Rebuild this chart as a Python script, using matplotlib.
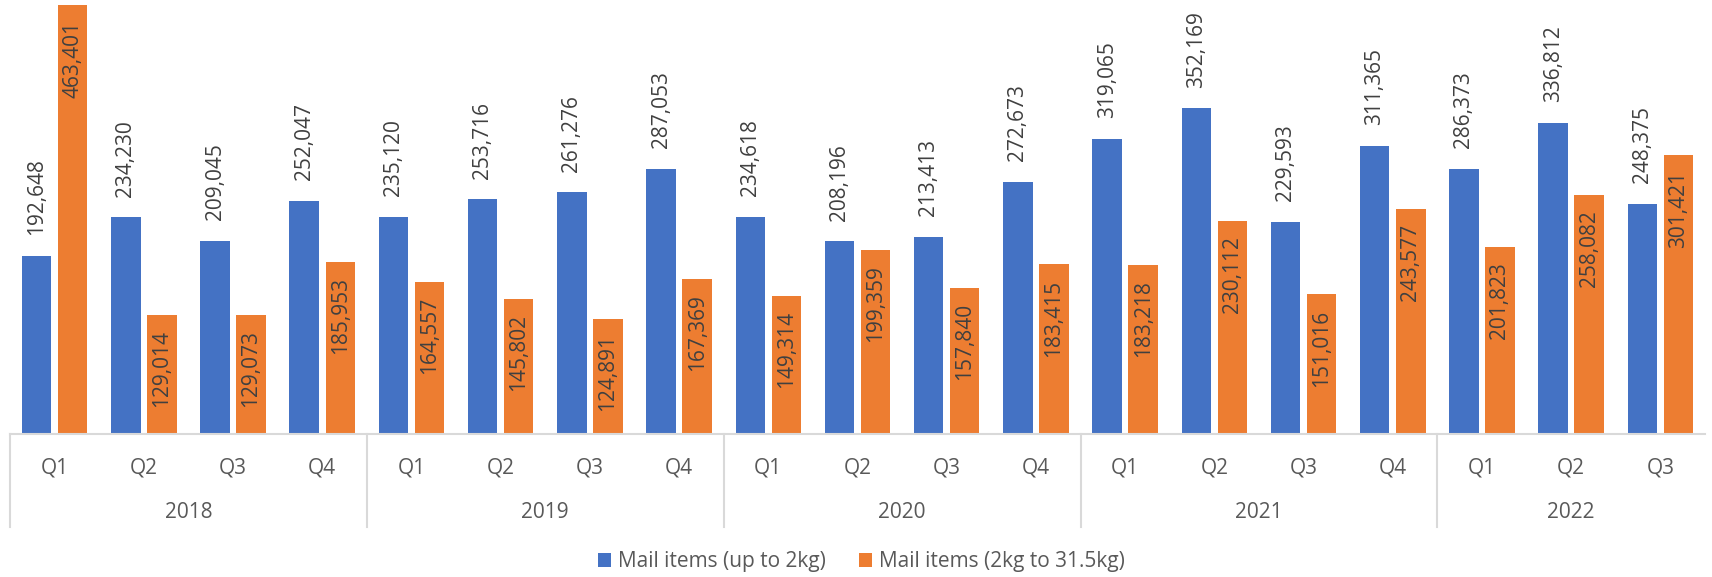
import matplotlib.pyplot as plt
import matplotlib.transforms as mtransforms
import numpy as np

plt.rcParams['font.family'] = ['Open Sans', 'DejaVu Sans']

# mail items per quarter, 2018 Q1 .. 2022 Q3
quarters = ['Q1', 'Q2', 'Q3', 'Q4'] * 4 + ['Q1', 'Q2', 'Q3']
years = ['2018', '2019', '2020', '2021', '2022']
year_sizes = [4, 4, 4, 4, 3]
small_items = [192648, 234230, 209045, 252047, 235120, 253716, 261276, 287053,
               234618, 208196, 213413, 272673, 319065, 352169, 229593, 311365,
               286373, 336812, 248375]
large_items = [463401, 129014, 129073, 185953, 164557, 145802, 124891, 167369,
               149314, 199359, 157840, 183415, 183218, 230112, 151016, 243577,
               201823, 258082, 301421]
series_names = ['Mail items (up to 2kg)', 'Mail items (2kg to 31.5kg)']

blue = '#4472C4'
orange = '#ED7D31'
txt = '#404040'
grid = '#D9D9D9'

fig = plt.figure(figsize=(17.12, 5.77), dpi=100)
ax = fig.add_axes([10 / 1712, 1 - 434 / 577, 1695 / 1712, 430 / 577])

x = np.arange(len(quarters))
w = 0.33
off = 0.202
b1 = ax.bar(x - off, small_items, w, color=blue, label=series_names[0])
b2 = ax.bar(x + off, large_items, w, color=orange, label=series_names[1])

for rect, v in zip(b1, small_items):
    ax.annotate(f'{v:,}', (rect.get_x() + rect.get_width() / 2, v),
                xytext=(0, 15), textcoords='offset points', rotation=90,
                ha='center', va='bottom', fontsize=15, color=txt)
for rect, v in zip(b2, large_items):
    ax.annotate(f'{v:,}', (rect.get_x() + rect.get_width() / 2, v),
                xytext=(0, -11), textcoords='offset points', rotation=90,
                ha='center', va='top', fontsize=15, color=txt)

ax.set_xlim(-0.5, len(quarters) - 0.5)
ax.set_ylim(0, 465000)
ax.set_yticks([])
for s in ['top', 'right', 'left']:
    ax.spines[s].set_visible(False)
ax.spines['bottom'].set_color(grid)
ax.spines['bottom'].set_linewidth(1.5)

ax.set_xticks(x)
ax.set_xticklabels(quarters, fontsize=15, color='#595959')
ax.tick_params(axis='x', length=0, pad=17)

# year labels and separators under the axis
trans = mtransforms.blended_transform_factory(ax.transData, ax.transAxes)
start = 0
bounds = [-0.5]
for yr, n in zip(years, year_sizes):
    mid = start + (n - 1) / 2
    ax.text(mid, -79 / 430, yr, transform=trans, ha='center', va='center',
            fontsize=15, color='#595959')
    start += n
    bounds.append(start - 0.5)
for b in bounds[:-1]:
    ax.plot([b, b], [0, -93 / 430], transform=trans, color=grid,
            linewidth=1.5, clip_on=False)

fig.legend(handles=[b1, b2], loc='center', bbox_to_anchor=(0.503, 1 - 562 / 577),
           ncol=2, frameon=False, fontsize=15, handlelength=0.65,
           handleheight=0.65, handletextpad=0.3, columnspacing=1.6,
           labelcolor='#595959')

fig.savefig('out.png', dpi=100)
